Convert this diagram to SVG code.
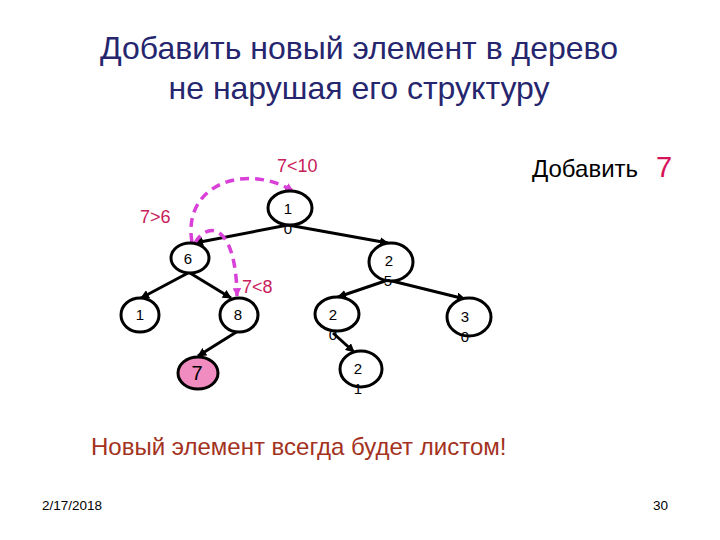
<svg xmlns="http://www.w3.org/2000/svg" width="720" height="540" viewBox="0 0 720 540">
<style>
.title{font-family:"Liberation Sans",Arial,sans-serif;font-size:32px;fill:#26266e;text-anchor:middle}
.node ellipse{fill:#fff;stroke:#000;stroke-width:3}
.node text{font-family:"Liberation Sans",Arial,sans-serif;font-size:15px;fill:#000;text-anchor:middle}
.edge{stroke:#000;stroke-width:3;fill:none;marker-end:url(#ah)}
.arc{stroke:#d840d8;stroke-width:3.5;fill:none;stroke-dasharray:9 6;marker-end:url(#am)}
.cmp{font-family:"Liberation Sans",Arial,sans-serif;font-size:18px;fill:#c8205a}
</style>
<defs>
<marker id="ah" viewBox="0 0 10 10" refX="9" refY="5" markerWidth="3" markerHeight="3" orient="auto" markerUnits="strokeWidth"><path d="M0,0L10,5L0,10z" fill="#000"/></marker>
<marker id="am" viewBox="0 0 10 10" refX="9" refY="5" markerWidth="2.5" markerHeight="2.5" orient="auto" markerUnits="strokeWidth"><path d="M0,0L10,5L0,10z" fill="#d840d8"/></marker>
</defs>
<rect width="720" height="540" fill="#fff"/>
<text class="title" x="359" y="59">Добавить новый элемент в дерево</text>
<text class="title" x="359" y="99">не нарушая его структуру</text>
<g id="connectors">
<line class="edge" x1="288" y1="225" x2="195" y2="243"/>
<line class="edge" x1="288" y1="225" x2="388" y2="243"/>
<line class="edge" x1="188" y1="273" x2="141" y2="298"/>
<line class="edge" x1="190" y1="273" x2="231" y2="298"/>
<line class="edge" x1="238" y1="331" x2="198" y2="356"/>
<line class="edge" x1="388" y1="280" x2="338" y2="297"/>
<line class="edge" x1="388" y1="280" x2="465" y2="299"/>
<line class="edge" x1="333" y1="333" x2="354" y2="352"/>
<path class="arc" d="M192,242 C182,185 245,162 293,191"/>
<path class="arc" d="M195,243 C208,220 236,224 237,296"/>
</g>
<g id="n10" class="node"><ellipse cx="290" cy="208" rx="22" ry="17"/><text x="288" y="214">1</text><text x="288" y="234">0</text></g>
<g id="n6" class="node"><ellipse cx="190" cy="258" rx="19" ry="15"/><text x="188" y="264">6</text></g>
<g id="n25" class="node"><ellipse cx="391" cy="262" rx="22" ry="19"/><text x="389" y="266">2</text><text x="388" y="286">5</text></g>
<g id="n1" class="node"><ellipse cx="140" cy="315" rx="19" ry="17"/><text x="140" y="320">1</text></g>
<g id="n8" class="node"><ellipse cx="239" cy="315" rx="19" ry="17"/><text x="238" y="320">8</text></g>
<g id="n7" class="node"><ellipse cx="198" cy="373" rx="20" ry="16" style="fill:#f08cc0"/><text x="197" y="380" style="font-size:20px">7</text></g>
<g id="n20" class="node"><ellipse cx="337" cy="314" rx="22" ry="17"/><text x="333" y="320">2</text><text x="333" y="340">0</text></g>
<g id="n30" class="node"><ellipse cx="469" cy="317" rx="22" ry="19"/><text x="465" y="322">3</text><text x="465" y="342">0</text></g>
<g id="n21" class="node"><ellipse cx="361" cy="369" rx="21" ry="18"/><text x="358" y="374">2</text><text x="358" y="394">1</text></g>
<text class="cmp" x="277" y="172">7&lt;10</text>
<text class="cmp" x="140" y="223">7&gt;6</text>
<text class="cmp" x="242" y="293">7&lt;8</text>
<text x="532" y="177" style="font-family:'Liberation Sans',Arial,sans-serif;font-size:24px;fill:#000">Добавить</text>
<text x="656" y="177" style="font-family:'Liberation Sans',Arial,sans-serif;font-size:29px;fill:#d6145a">7</text>
<text x="91" y="455" style="font-family:'Liberation Sans',Arial,sans-serif;font-size:24px;fill:#a3321e">Новый элемент всегда будет листом!</text>
<text x="42" y="510" style="font-family:'Liberation Sans',Arial,sans-serif;font-size:13.5px;fill:#000">2/17/2018</text>
<text x="668" y="510" style="font-family:'Liberation Sans',Arial,sans-serif;font-size:13.5px;fill:#000;text-anchor:end">30</text>
</svg>
